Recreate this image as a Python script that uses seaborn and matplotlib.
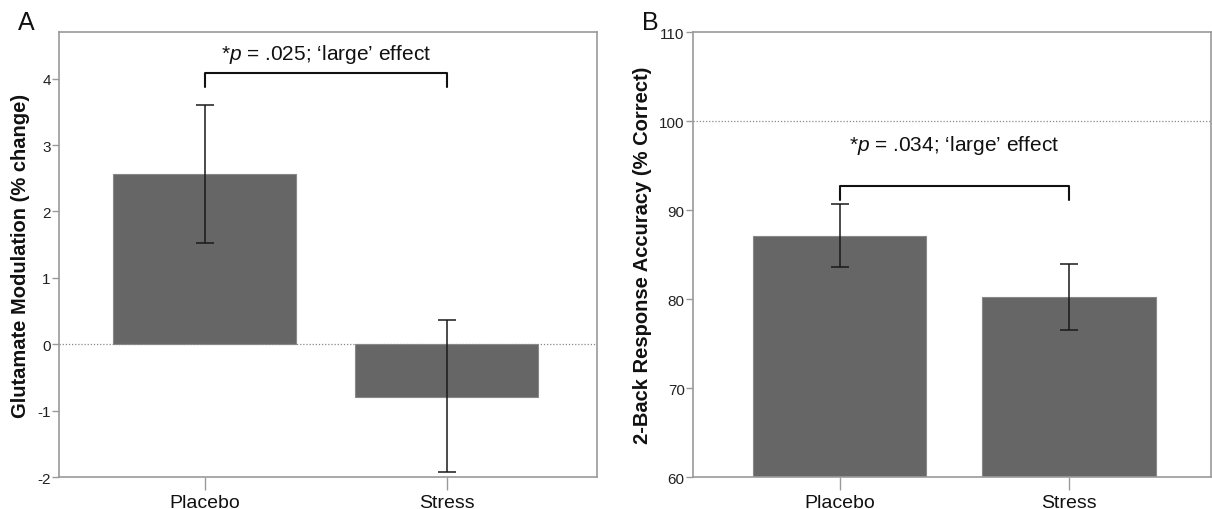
import matplotlib
matplotlib.use("Agg")
import matplotlib.pyplot as plt
import seaborn as sns
import pandas as pd
import numpy as np

sns.set_theme(style="white")
plt.rcParams['font.family'] = ['Liberation Sans', 'DejaVu Sans']
plt.rcParams['mathtext.fontset'] = 'custom'
plt.rcParams['mathtext.it'] = 'Liberation Sans:italic'
plt.rcParams['mathtext.rm'] = 'Liberation Sans'

# ---- data ----
groups = ["Placebo", "Stress"]
glu_mean = [2.57, -0.79]
glu_low = [1.53, -1.93]
glu_high = [3.60, 0.36]
acc_mean = [87.1, 80.2]
acc_low = [83.6, 76.5]
acc_high = [90.7, 83.9]
glu_label = "Glutamate Modulation (% change)"
acc_label = "2-Back Response Accuracy (% Correct)"
glu_annot = r"*$\it{p}$ = .025; ‘large’ effect"
acc_annot = r"*$\it{p}$ = .034; ‘large’ effect"
glu_ticks = [-2, -1, 0, 1, 2, 3, 4]
acc_ticks = [60, 70, 80, 90, 100, 110]

fig = plt.figure(figsize=(12.12, 5.10), dpi=100)
axA = fig.add_axes([0.0487, 0.0627, 0.4439, 0.8723])
axB = fig.add_axes([0.5718, 0.0627, 0.4272, 0.8723])

bar_color = "#666666"
spine_color = "#9a9a9a"


def draw(ax, mean, low, high, ylim, ticks, ylabel, annot, br_top, br_leg, txt_y,
         xlim, refline, bottom=None):
    df = pd.DataFrame({"group": groups, "value": mean})
    sns.barplot(data=df, x="group", y="value", color=bar_color, saturation=1,
                width=0.756, errorbar=None, ax=ax, edgecolor="#888888",
                linewidth=0.8)
    if bottom is not None:
        for p, m in zip(ax.patches, mean):
            p.set_y(bottom)
            p.set_height(m - bottom)
    x = np.arange(len(groups))
    m = np.array(mean)
    yerr = np.vstack([m - np.array(low), np.array(high) - m])
    ax.errorbar(x, m, yerr=yerr, fmt="none", ecolor="#1a1a1a", elinewidth=1.1,
                capsize=6.5, capthick=1.1, zorder=5)
    ax.axhline(refline, color="#888888", linestyle=(0, (1, 1.5)), linewidth=0.9,
               zorder=1)
    ax.set_ylim(*ylim)
    ax.set_xlim(*xlim)
    ax.set_yticks(ticks)
    ax.set_yticklabels([str(t) for t in ticks])
    ax.set_xlabel("")
    ax.set_ylabel(ylabel, fontsize=14.5, fontweight="bold", color="#111111",
                  labelpad=5)
    for s in ax.spines.values():
        s.set_visible(True)
        s.set_color(spine_color)
        s.set_linewidth(1.2)
    ax.tick_params(axis="y", left=True, length=5, width=1, color=spine_color,
                   labelsize=11, labelcolor="#222222", pad=1)
    ax.tick_params(axis="x", bottom=True, length=9, width=1, color=spine_color,
                   labelsize=14, labelcolor="#111111", pad=3)
    ax.plot([0, 0, 1, 1], [br_leg, br_top, br_top, br_leg], color="#111111",
            linewidth=1.5, zorder=6)
    ax.text(0.5, txt_y, annot, ha="center", va="center", fontsize=15,
            color="#111111")


draw(axA, glu_mean, glu_low, glu_high, (-2, 4.7), glu_ticks, glu_label,
     glu_annot, 4.09, 3.87, 4.38, (-0.602, 1.62), 0)
draw(axB, acc_mean, acc_low, acc_high, (60, 110), acc_ticks, acc_label,
     acc_annot, 92.7, 91.1, 97.4, (-0.639, 1.618), 100, bottom=60)

fig.text(0.015, 0.955, "A", fontsize=18, color="#111111", va="center")
fig.text(0.530, 0.955, "B", fontsize=18, color="#111111", va="center")

fig.savefig("out.png", dpi=100)
